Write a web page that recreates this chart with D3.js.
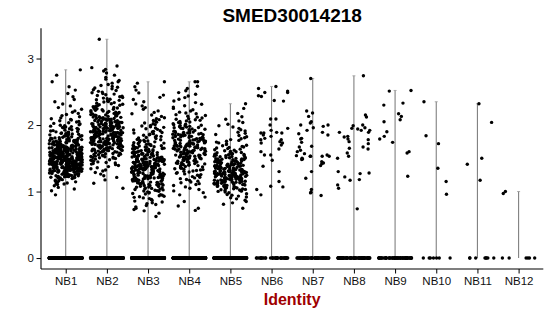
<!DOCTYPE html>
<html>
<head>
<meta charset="utf-8">
<script src="https://cdn.jsdelivr.net/npm/d3@7"></script>
<style>
  body { margin: 0; background: #fff; }
  svg { font-family: "Liberation Sans", Arial, sans-serif; }
</style>
</head>
<body>
<svg id="chart" width="550" height="316"></svg>
<script>
// cluster names on the x axis
const clusters = ["NB1", "NB2", "NB3", "NB4", "NB5", "NB6", "NB7", "NB8", "NB9", "NB10", "NB11", "NB12"];
const yTicks = [0, 1, 2, 3];

// cells with zero expression, per cluster
const zeroCounts = [600, 520, 520, 480, 520, 40, 75, 75, 60, 7, 8, 6];

// the big clusters: counts of cells per 0.1-wide bin, bins start at 0.6
const binStart = 0.6;
const binWidth = 0.1;
const nb1Bins = [0, 0, 0, 1, 4, 12, 35, 60, 75, 70, 50, 35, 22, 15, 10, 6, 4, 3, 2, 2, 1, 1];
const nb2Bins = [0, 0, 0, 0, 1, 2, 4, 6, 12, 20, 30, 40, 45, 42, 32, 22, 15, 12, 10, 8, 5, 3, 4];
const nb3Bins = [2, 5, 8, 12, 18, 25, 40, 50, 45, 32, 22, 16, 12, 10, 8, 5, 4, 3, 3, 2, 1];
const nb4Bins = [0, 3, 1, 3, 5, 8, 10, 15, 22, 28, 32, 30, 25, 18, 12, 8, 5, 4, 4, 3, 1];
const nb5Bins = [0, 1, 5, 8, 20, 35, 45, 42, 30, 20, 12, 8, 6, 5, 4, 2, 1];
// top cell of each big cluster, read on its own
const bigMax = [2.83, 3.29, 2.63, 2.65, 2.32];

// the small clusters: expression of each non-zero cell
const nb6Values = [2.58, 2.55, 2.51, 2.49, 2.49, 2.44, 2.43, 2.37, 2.36, 2.09, 2.09, 2.00, 1.95, 1.92, 1.89, 1.88, 1.88, 1.88, 1.85, 1.83,
                   1.80, 1.78, 1.78, 1.75, 1.73, 1.73, 1.70, 1.64, 1.60, 1.55, 1.55, 1.47, 1.38, 1.30, 1.15, 1.08, 1.07, 1.03, 0.95];
const nb7Values = [2.70, 2.21, 2.18, 2.13, 2.05, 2.03, 2.00, 2.00, 1.98, 1.96, 1.92, 1.89, 1.87, 1.85, 1.80, 1.79, 1.74, 1.68, 1.67, 1.62,
                   1.60, 1.57, 1.55, 1.54, 1.53, 1.53, 1.53, 1.53, 1.50, 1.49, 1.48, 1.45, 1.43, 1.42, 1.39, 1.30, 1.20, 1.03, 0.99, 0.98, 0.94];
const nb8Values = [2.74, 2.15, 2.12, 2.00, 1.99, 1.96, 1.95, 1.94, 1.92, 1.92, 1.89, 1.89, 1.83, 1.82, 1.79, 1.78, 1.75, 1.72, 1.67, 1.65,
                   1.64, 1.58, 1.53, 1.50, 1.30, 1.28, 1.27, 1.22, 1.18, 1.17, 1.10, 1.05, 0.74];
const nb9Values = [2.52, 2.51, 2.33, 2.30, 2.17, 2.13, 2.08, 2.05, 1.90, 1.83, 1.79, 1.74, 1.60, 1.58, 1.23];
const nb10Values = [2.35, 1.84, 1.72, 1.35, 1.15, 0.96];
const nb11Values = [2.32, 2.04, 1.50, 1.41, 1.17];
const nb12Values = [1.00, 0.97];

// turn bin counts into cell values, spread through each bin
function fromBins(bins, top) {
  const out = [top];
  bins.forEach((n, i) => {
    for (let k = 0; k < n; k++) out.push(binStart + binWidth * i + binWidth * (k + 0.5) / n);
  });
  return out;
}

const nonZero = [fromBins(nb1Bins, bigMax[0]), fromBins(nb2Bins, bigMax[1]), fromBins(nb3Bins, bigMax[2]),
                 fromBins(nb4Bins, bigMax[3]), fromBins(nb5Bins, bigMax[4]),
                 nb6Values, nb7Values, nb8Values, nb9Values, nb10Values, nb11Values, nb12Values];

const cells = [];
clusters.forEach((c, ci) => {
  for (let k = 0; k < zeroCounts[ci]; k++) cells.push({ cluster: c, ci: ci, value: 0, k: k });
  nonZero[ci].forEach((v, k) => cells.push({ cluster: c, ci: ci, value: v, k: k + 1000 }));
});

const svg = d3.select("#chart");
const plotLeft = 41, plotRight = 543.3, plotTop = 28.3, plotBottom = 269;

const x = d3.scalePoint().domain(clusters).range([plotLeft, plotRight]).padding(0.6);
const yMax = d3.max(cells, d => d.value);
const pad = yMax * 0.05;
const y = d3.scaleLinear().domain([-pad, yMax + pad]).range([plotBottom, plotTop]);

// violins: with so many zeros they shrink to a thin line up to the max
clusters.forEach((c, ci) => {
  const vmax = d3.max(nonZero[ci]);
  svg.append("line")
    .attr("x1", x(c)).attr("x2", x(c))
    .attr("y1", y(0)).attr("y2", y(vmax))
    .attr("stroke", "#808080")
    .attr("stroke-width", 1.1);
  svg.append("line")
    .attr("x1", x(c) - 1.5).attr("x2", x(c) + 1.5)
    .attr("y1", y(vmax)).attr("y2", y(vmax))
    .attr("stroke", "#999")
    .attr("stroke-width", 0.8);
});

// jitter: +-40% of the category step, from a fixed hash so it is the same every run
function jitter(ci, k) {
  const s = Math.sin(k * 12.9898 + ci * 78.233) * 43758.5453;
  return s - Math.floor(s);
}
const step = x.step();
svg.append("g").selectAll("circle")
  .data(cells)
  .join("circle")
  .attr("cx", d => x(d.cluster) + (jitter(d.ci, d.k) - 0.5) * 0.8 * step)
  .attr("cy", d => y(d.value))
  .attr("r", 1.7)
  .attr("fill", "#000");

// axes
const yAxis = svg.append("g")
  .attr("transform", `translate(${plotLeft},0)`)
  .call(d3.axisLeft(y).tickValues(yTicks).tickSize(4.5).tickPadding(2.5).tickFormat(d3.format("d")));
yAxis.select(".domain").attr("d", `M0,${plotBottom}V${plotTop}`).attr("stroke-width", 1.1);

const xAxis = svg.append("g")
  .attr("transform", `translate(0,${plotBottom})`)
  .call(d3.axisBottom(x).tickSize(4.5).tickPadding(3));
xAxis.select(".domain").attr("d", `M${plotLeft},0H${plotRight}`).attr("stroke-width", 1.1);

svg.selectAll(".tick text").attr("font-size", 11.5).attr("fill", "#111")
  .attr("font-family", "'Liberation Sans', Arial, sans-serif");

svg.append("text")
  .attr("x", (plotLeft + plotRight) / 2)
  .attr("y", 21.7)
  .attr("text-anchor", "middle")
  .attr("font-size", 19)
  .attr("font-weight", "bold")
  .text("SMED30014218");

svg.append("text")
  .attr("x", (plotLeft + plotRight) / 2)
  .attr("y", 305)
  .attr("text-anchor", "middle")
  .attr("font-size", 16)
  .attr("font-weight", "bold")
  .attr("fill", "#a00000")
  .text("Identity");
</script>
</body>
</html>
